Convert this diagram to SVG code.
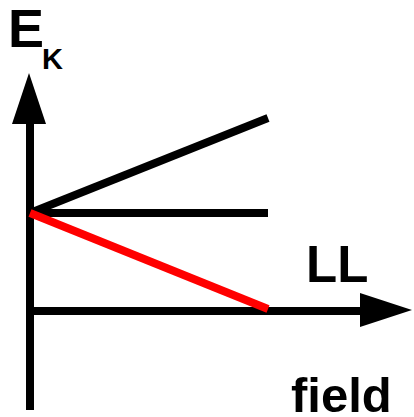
<svg xmlns="http://www.w3.org/2000/svg" width="414" height="417" viewBox="0 0 414 417">
<style>
.t{font-family:"Liberation Sans",Arial,sans-serif;font-weight:bold;fill:#000}
.l{stroke-width:8;fill:none;stroke-linecap:butt}
</style>
<rect width="414" height="417" fill="#fff"/>
<g id="axes">
<line class="l" x1="30" y1="410" x2="30" y2="120" stroke="#000"/>
<polygon points="29,73 12,124 46,124" fill="#000"/>
<line class="l" x1="30" y1="311" x2="364" y2="311" stroke="#000"/>
<polygon points="412,310 360,293 360,327" fill="#000"/>
</g>
<g id="connectors">
<line class="l" x1="30" y1="213" x2="268" y2="118" stroke="#000"/>
<line class="l" x1="30" y1="213" x2="268" y2="213" stroke="#000"/>
<line class="l" x1="30" y1="213" x2="268" y2="309" stroke="#f00"/>
</g>
<g id="labels">
<text class="t" x="8" y="47" font-size="54">E</text>
<text class="t" x="42" y="69" font-size="29">K</text>
<text class="t" x="306" y="282" font-size="51">LL</text>
<text class="t" x="291" y="412" font-size="49">field</text>
</g>
</svg>
